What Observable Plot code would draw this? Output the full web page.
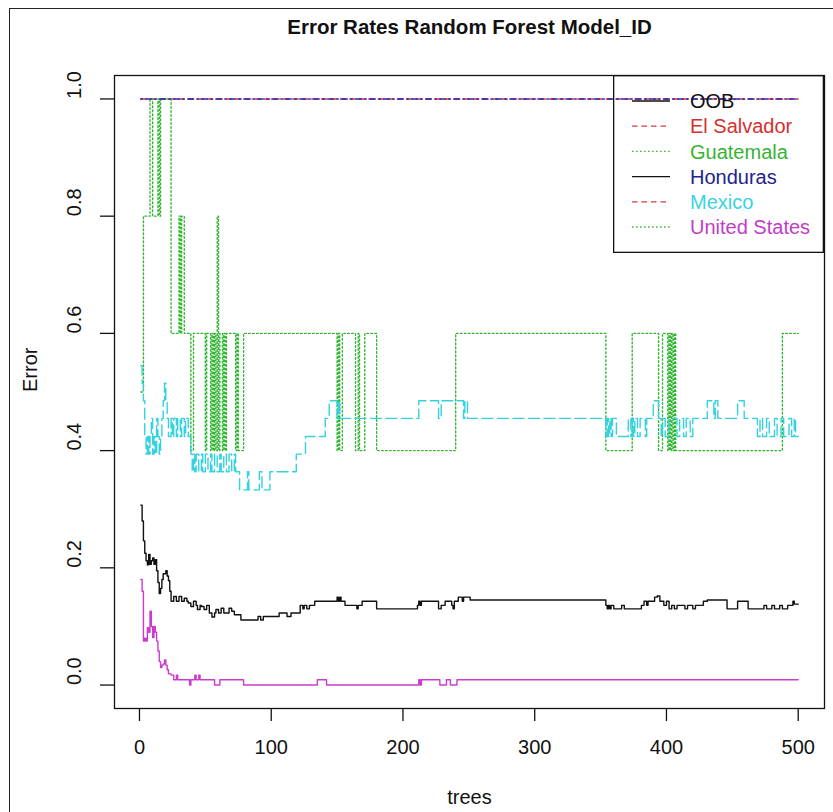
<!DOCTYPE html>
<html><head><meta charset="utf-8">
<script src="https://cdn.jsdelivr.net/npm/d3@7"></script>
<script src="https://cdn.jsdelivr.net/npm/@observablehq/plot@0.6"></script>
<style>
body{margin:0;background:#fff;}
#wrap{position:relative;width:833px;height:812px;overflow:hidden;background:#fff;}
#border{position:absolute;left:9px;top:8px;width:900px;height:900px;border-left:1.5px solid #222;border-top:1.5px solid #222;pointer-events:none;}
#legend{position:absolute;left:613px;top:75px;}
</style></head><body><div id="wrap"><div id="border"></div></div>
<script>
const titleText = "Error Rates Random Forest Model_ID";
const xLabel = "trees";
const yLabel = "Error";
const xTicks = [0, 100, 200, 300, 400, 500];
const yTicks = [0.0, 0.2, 0.4, 0.6, 0.8, 1.0];
const seriesNames = ["OOB", "El Salvador", "Guatemala", "Honduras", "Mexico", "United States"];

// [tree, error] change points (value held until the next point)
const oobPts = [[1,0.307],[2,0.28],[3,0.246],[4,0.225],[5,0.212],[6,0.205],[7,0.223],[8,0.206],[9,0.212],[10,0.217],[11,0.206],[12,0.214],[13,0.195],[14,0.175],[15,0.156],[16,0.165],[17,0.18],[18,0.19],[20,0.195],[21,0.186],[22,0.178],[23,0.16],[24,0.143],[26,0.151],[28,0.143],[30,0.151],[32,0.143],[34,0.148],[36,0.143],[37,0.14],[39,0.134],[41,0.143],[43,0.136],[44,0.129],[46,0.136],[47,0.134],[49,0.129],[51,0.136],[53,0.123],[55,0.116],[57,0.123],[58,0.129],[60,0.123],[62,0.131],[64,0.123],[66,0.123],[68,0.131],[70,0.126],[72,0.12],[74,0.12],[77,0.111],[90,0.117],[92,0.111],[94,0.117],[96,0.117],[106,0.123],[112,0.117],[115,0.123],[122,0.136],[124,0.13],[125,0.136],[127,0.13],[129,0.136],[133,0.143],[150,0.15],[151,0.143],[152,0.15],[153,0.143],[156,0.136],[165,0.13],[166,0.136],[169,0.143],[180,0.13],[211,0.136],[212,0.143],[213,0.136],[214,0.143],[227,0.13],[229,0.136],[232,0.143],[237,0.136],[238,0.13],[239,0.143],[242,0.15],[245,0.143],[246,0.15],[251,0.145],[354,0.136],[355,0.13],[356,0.136],[357,0.13],[358,0.136],[360,0.13],[366,0.136],[368,0.13],[381,0.136],[383,0.143],[385,0.136],[386,0.143],[391,0.15],[393,0.152],[395,0.143],[398,0.136],[400,0.143],[402,0.13],[404,0.136],[406,0.13],[408,0.136],[414,0.13],[416,0.136],[420,0.13],[422,0.136],[428,0.143],[431,0.145],[446,0.13],[454,0.143],[462,0.13],[474,0.136],[476,0.13],[480,0.136],[482,0.13],[486,0.136],[488,0.13],[492,0.136],[496,0.143],[497,0.138],[500,0.138]];
const elSalvadorPts = [[1,1.0],[500,1.0]];
const guatemalaPts = [[1,0.5],[3,0.8],[8,1.0],[10,0.8],[14,1.0],[15,0.8],[16,1.0],[24,0.6],[30,0.8],[31,0.6],[32,0.8],[34,0.6],[39,0.4],[41,0.6],[50,0.4],[51,0.6],[54,0.4],[55,0.6],[56,0.4],[57,0.6],[58,0.4],[59,0.8],[60,0.4],[61,0.6],[63,0.4],[64,0.6],[65,0.4],[66,0.6],[73,0.4],[74,0.6],[75,0.4],[79,0.6],[150,0.4],[151,0.6],[152,0.4],[154,0.6],[164,0.4],[166,0.6],[167,0.4],[171,0.6],[180,0.4],[240,0.6],[354,0.4],[374,0.6],[394,0.4],[397,0.6],[401,0.4],[402,0.6],[403,0.4],[404,0.6],[405,0.4],[406,0.6],[407,0.4],[488,0.6],[500,0.6]];
const hondurasPts = [[1,1.0],[500,1.0]];
const mexicoPts = [[1,0.545],[2,0.515],[3,0.485],[4,0.424],[5,0.394],[6,0.424],[7,0.394],[8,0.424],[9,0.455],[10,0.394],[11,0.424],[12,0.394],[13,0.455],[14,0.424],[15,0.394],[16,0.424],[17,0.455],[18,0.485],[19,0.515],[20,0.485],[21,0.455],[22,0.424],[24,0.455],[25,0.424],[26,0.455],[28,0.424],[29,0.455],[31,0.424],[32,0.455],[34,0.424],[35,0.455],[37,0.424],[39,0.394],[40,0.364],[41,0.394],[42,0.364],[43,0.394],[45,0.364],[47,0.394],[48,0.364],[50,0.394],[52,0.364],[54,0.394],[55,0.364],[57,0.394],[59,0.364],[61,0.394],[62,0.364],[64,0.394],[66,0.364],[68,0.394],[70,0.364],[72,0.394],[73,0.364],[76,0.333],[82,0.364],[83,0.333],[91,0.364],[93,0.333],[99,0.364],[119,0.394],[126,0.424],[141,0.455],[144,0.485],[150,0.455],[151,0.485],[152,0.455],[212,0.485],[227,0.455],[229,0.485],[246,0.455],[247,0.485],[249,0.455],[354,0.424],[355,0.455],[356,0.424],[357,0.455],[358,0.424],[359,0.455],[362,0.424],[371,0.455],[373,0.424],[374,0.455],[375,0.424],[376,0.455],[378,0.424],[380,0.455],[384,0.424],[385,0.455],[390,0.485],[394,0.455],[396,0.424],[397,0.455],[399,0.424],[402,0.455],[408,0.424],[410,0.455],[413,0.424],[415,0.455],[418,0.424],[420,0.455],[431,0.485],[436,0.455],[437,0.485],[439,0.455],[454,0.485],[459,0.455],[469,0.424],[471,0.455],[473,0.424],[476,0.455],[478,0.424],[482,0.455],[484,0.424],[487,0.455],[489,0.424],[493,0.455],[495,0.424],[497,0.455],[498,0.424],[500,0.424]];
const usPts = [[1,0.18],[2,0.16],[3,0.075],[4,0.08],[5,0.075],[6,0.098],[7,0.09],[8,0.126],[9,0.1],[10,0.081],[11,0.1],[12,0.09],[13,0.075],[14,0.058],[15,0.04],[16,0.03],[17,0.034],[18,0.036],[19,0.043],[20,0.034],[21,0.026],[22,0.019],[24,0.017],[26,0.009],[28,0.017],[29,0.009],[38,0.0],[39,0.009],[42,0.017],[43,0.009],[45,0.017],[46,0.009],[57,0.0],[61,0.009],[79,0.0],[135,0.009],[142,0.0],[212,0.009],[213,0.0],[214,0.009],[228,0.0],[233,0.009],[236,0.0],[241,0.009],[500,0.009]];

const seriesPts = [oobPts, elSalvadorPts, guatemalaPts, hondurasPts, mexicoPts, usPts];

// styles
const lineStyles = [
  {stroke: "#111", dash: null},
  {stroke: "#e03030", dash: "5.5,4"},
  {stroke: "#2fb52f", dash: "1.6,2.4"},
  {stroke: "#2626b8", dash: "1.5,3.5,5.5,3.5"},
  {stroke: "#33d2de", dash: "11,4.5"},
  {stroke: "#cc3ccc", dash: null}
];
const legendLineStyles = [
  {stroke: "#111", dash: null},
  {stroke: "#d83a3a", dash: "5.5,4"},
  {stroke: "#3cb83c", dash: "1.6,2.4"},
  {stroke: "#111", dash: null},
  {stroke: "#d83a3a", dash: "5.5,4"},
  {stroke: "#3cb83c", dash: "1.6,2.4"}
];
const legendTextColors = ["#111", "#d43030", "#34b434", "#23238f", "#38d4e0", "#c23cc8"];

const xDomain = [1 - 0.04 * 499, 500 + 0.04 * 499];
const yDomain = [-0.04, 1.04];

const lineMarks = seriesPts.map((pts, i) => Plot.line(
  pts.map(([t, v]) => ({tree: t, error: v})),
  {x: "tree", y: "error", curve: "step-after", stroke: lineStyles[i].stroke,
   strokeWidth: 1.4, strokeDasharray: lineStyles[i].dash || undefined}
));

const chart = Plot.plot({
  width: 833, height: 812,
  marginLeft: 114, marginRight: 9, marginTop: 75, marginBottom: 104,
  x: {domain: xDomain},
  y: {domain: yDomain},
  style: {fontFamily: "'Liberation Sans', Arial, sans-serif", fontSize: "20px", background: "transparent", color: "#111"},
  marks: [
    ...lineMarks,
    Plot.frame({stroke: "#111", strokeWidth: 1.3}),
    Plot.axisX({ticks: xTicks, tickSize: 13, tickFormat: () => "", label: null, strokeWidth: 1.3}),
    Plot.axisY({ticks: yTicks, tickSize: 14, tickFormat: () => "", label: null, strokeWidth: 1.3}),
    Plot.text(xTicks, {x: d => d, text: d => String(d), frameAnchor: "bottom", dy: 39, lineAnchor: "middle", fontSize: 20}),
    Plot.text(yTicks, {y: d => d, text: d => d.toFixed(1), frameAnchor: "left", dx: -40, rotate: -90, lineAnchor: "middle", fontSize: 20}),
    Plot.text([xLabel], {text: d => d, frameAnchor: "bottom", dy: 89, lineAnchor: "middle", fontSize: 20}),
    Plot.text([yLabel], {text: d => d, frameAnchor: "left", dx: -84, rotate: -90, lineAnchor: "middle", fontSize: 20}),
    Plot.text([titleText], {text: d => d, frameAnchor: "top", dy: -48, lineAnchor: "middle", fontSize: 20.5, fontWeight: "bold"})
  ]
});
const wrap = document.getElementById("wrap");
chart.style.position = "absolute";
chart.style.left = "0px";
chart.style.top = "0px";
wrap.appendChild(chart);

// legend
const lg = d3.create("svg").attr("id", "legend").attr("width", 211).attr("height", 178)
  .style("font-family", "'Liberation Sans', Arial, sans-serif").style("font-size", "20px");
lg.append("rect").attr("x", 0.65).attr("y", 0.65).attr("width", 209.7).attr("height", 176.7)
  .attr("fill", "none").attr("stroke", "#111").attr("stroke-width", 1.3);
seriesNames.forEach((name, i) => {
  const cy = 26 + i * 25.2;
  lg.append("line").attr("x1", 19).attr("x2", 57).attr("y1", cy).attr("y2", cy)
    .attr("stroke", legendLineStyles[i].stroke).attr("stroke-width", 1.3)
    .attr("stroke-dasharray", legendLineStyles[i].dash);
  lg.append("text").attr("x", 77).attr("y", cy).attr("dy", "0.36em")
    .attr("fill", legendTextColors[i]).text(name);
});
wrap.appendChild(lg.node());
</script>
</body></html>
